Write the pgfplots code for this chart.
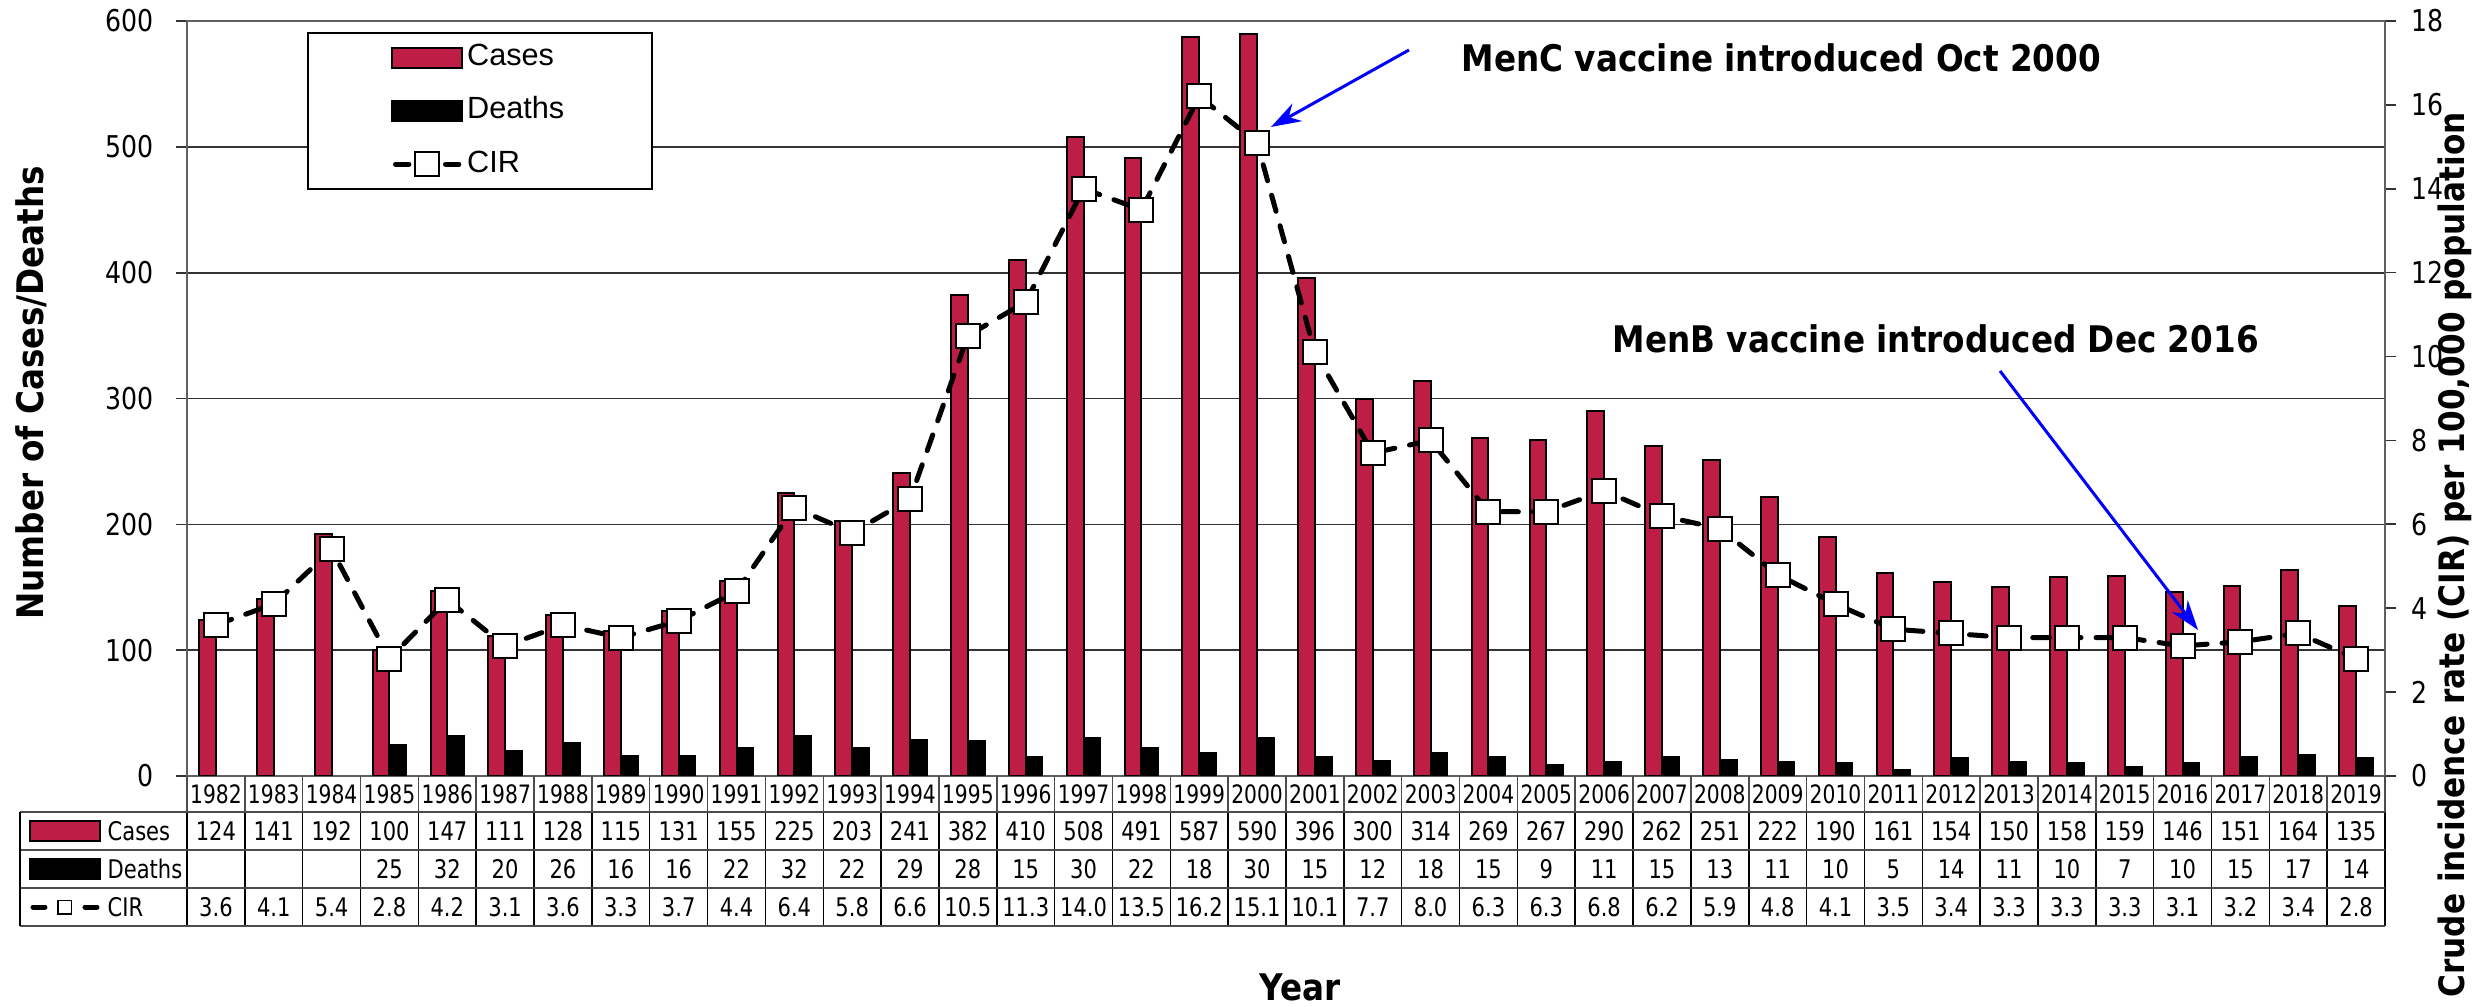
\documentclass[border=0pt]{standalone}
\usepackage{pgfplots}
\pgfplotsset{compat=1.18}
\usepackage{pgfplotstable}
\usetikzlibrary{arrows.meta}
\usepackage{fontspec}
\setmainfont{DejaVu Sans}
\newfontfamily\tickfont[FakeStretch=0.84]{DejaVu Sans}
\newfontfamily\tabfont[FakeStretch=0.82]{DejaVu Sans}
\newfontfamily\yearfont[FakeStretch=0.80]{DejaVu Sans}
\newfontfamily\boldfont[FakeStretch=0.89]{DejaVu Sans}
\newfontfamily\legfont{Liberation Sans}
\definecolor{crim}{RGB}{190,30,69}

\pgfplotsset{
  cirlegend/.style={legend image code/.code={%
    \draw[##1, mark=none, solid] (1pt,0pt) -- (5pt,0pt) (16pt,0pt) -- (20pt,0pt);
    \draw[##1, only marks] plot coordinates {(10.5pt,0pt)};}},
  barlegend/.style={legend image code/.code={%
    \draw[##1] (0pt,-3pt) rectangle (21pt,3pt);}},
}

\pgfplotstableread{
idx year cases deaths cir
0 1982 124 nan 3.6
1 1983 141 nan 4.1
2 1984 192 nan 5.4
3 1985 100 25 2.8
4 1986 147 32 4.2
5 1987 111 20 3.1
6 1988 128 26 3.6
7 1989 115 16 3.3
8 1990 131 16 3.7
9 1991 155 22 4.4
10 1992 225 32 6.4
11 1993 203 22 5.8
12 1994 241 29 6.6
13 1995 382 28 10.5
14 1996 410 15 11.3
15 1997 508 30 14.0
16 1998 491 22 13.5
17 1999 587 18 16.2
18 2000 590 30 15.1
19 2001 396 15 10.1
20 2002 300 12 7.7
21 2003 314 18 8.0
22 2004 269 15 6.3
23 2005 267 9 6.3
24 2006 290 11 6.8
25 2007 262 15 6.2
26 2008 251 13 5.9
27 2009 222 11 4.8
28 2010 190 10 4.1
29 2011 161 5 3.5
30 2012 154 14 3.4
31 2013 150 11 3.3
32 2014 158 10 3.3
33 2015 159 7 3.3
34 2016 146 10 3.1
35 2017 151 15 3.2
36 2018 164 17 3.4
37 2019 135 14 2.8
}\datatable

\def\colw{17.3526}
\tikzset{tabtxt/.style={font=\tabfont\fontsize{7.7}{8.5}\selectfont, inner sep=0pt}}

\begin{document}
\begin{tikzpicture}
\useasboundingbox (-56.1pt,-69.3pt) rectangle (687.3pt,232.8pt);
\begin{axis}[
  at={(0pt,0pt)}, anchor=south west,
  width=659.4pt, height=226.5pt, scale only axis,
  xmin=-0.5, xmax=37.5, ymin=0, ymax=600,
  ybar, bar width=0.29,
  xtick=\empty,
  ytick={0,100,...,600},
  tick pos=left,
  tick align=outside,
  major tick length=3.3pt,
  ymajorgrids,
  grid style={draw=gray!40!black, line width=0.5pt},
  axis line style={draw=gray!75!black, line width=0.7pt},
  tick style={draw=gray!40!black, line width=0.5pt},
  /pgf/number format/assume math mode=true,
  yticklabel style={font=\tickfont\fontsize{9}{10}\selectfont, xshift=-3.3pt},
]
\addplot[fill=crim, draw=black, line width=0.6pt, bar shift=-0.145] table[x=idx,y=cases]{\datatable};
\addplot[fill=black, draw=black, line width=0.6pt, bar shift=0.145] table[x=idx,y=deaths]{\datatable};
\end{axis}
\begin{axis}[
  at={(0pt,0pt)}, anchor=south west,
  width=659.4pt, height=226.5pt, scale only axis,
  xmin=-0.5, xmax=37.5, ymin=0, ymax=18,
  axis x line=none,
  axis y line*=right,
  ytick={0,2,...,18},
  tick align=outside,
  major tick length=3.3pt,
  axis line style={draw=gray!75!black, line width=0.7pt},
  tick style={draw=gray!40!black, line width=0.5pt},
  /pgf/number format/assume math mode=true,
  yticklabel style={font=\tickfont\fontsize{9}{10}\selectfont, xshift=1.2pt},
  legend cell align=left,
  legend style={at={(0.0546,0.9854)}, anchor=north west, draw=black, line width=0.5pt,
    fill=white, font=\legfont\fontsize{9.2}{10}\selectfont,
    inner xsep=25pt, inner ysep=3.15pt, row sep=7.5pt,
    nodes={inner xsep=1.2pt, inner ysep=0pt, text height=6.6pt, text depth=1.9pt}},
]
\addlegendimage{barlegend, fill=crim, draw=black, line width=0.6pt}
\addlegendentry{Cases}
\addlegendimage{barlegend, fill=black, draw=black, line width=0.6pt}
\addlegendentry{Deaths}
\addplot[black, line width=1.5pt, line cap=round, dash pattern=on 5pt off 4.5pt,
  mark=square*, mark size=3.6pt,
  mark options={solid, fill=white, draw=black, line width=0.6pt},
  cirlegend
] table[x=idx,y=cir]{\datatable};
\addlegendentry{CIR}
\end{axis}

% annotations
\draw[blue, line width=0.9pt, -{Stealth[length=9pt,width=6pt]}] (366.6pt,217.8pt) -- (325.2pt,194.7pt);
\node[anchor=base west, font=\boldfont\bfseries\fontsize{11}{13}\selectfont, inner sep=0pt] at (382.2pt,211.2pt) {MenC vaccine introduced Oct 2000};
\draw[blue, line width=0.9pt, -{Stealth[length=9pt,width=6pt]}] (543.9pt,121.5pt) -- (603.3pt,43.8pt);
\node[anchor=base west, font=\boldfont\bfseries\fontsize{11}{13}\selectfont, inner sep=0pt] at (427.5pt,126.9pt) {MenB vaccine introduced Dec 2016};

% axis titles
\node[rotate=90, font=\boldfont\bfseries\fontsize{11}{13}\selectfont, inner sep=0pt] at (-46.8pt,114.9pt) {Number of Cases/Deaths};
\node[rotate=90, font=\boldfont\bfseries\fontsize{10.5}{13}\selectfont, inner sep=0pt] at (680.4pt,66.3pt) {Crude incidence rate (CIR) per 100,000 population};
\node[font=\boldfont\bfseries\fontsize{11}{13}\selectfont, inner sep=0pt] at (333.9pt,-63.3pt) {Year};

% data table
\foreach \k in {0,...,38}{
  \draw[gray!60!black, line width=0.45pt] ({\k*\colw*1pt},0pt) -- ({\k*\colw*1pt},-10.8pt);
  \draw[black, line width=0.45pt] ({\k*\colw*1pt},-10.8pt) -- ({\k*\colw*1pt},-45pt);
}
\foreach \yy in {-10.8,-22.2,-33.6,-45}
  \draw[gray!60!black, line width=0.5pt] (-50.1pt,\yy pt) -- (659.4pt,\yy pt);
\draw[black, line width=0.45pt] (-50.1pt,-10.8pt) -- (-50.1pt,-45pt);

\foreach \v [count=\i from 0] in {1982,...,2019}
  \node[font=\yearfont\fontsize{7.6}{8.5}\selectfont, inner sep=0pt] at ({(\i+0.5)*\colw*1pt},-5.6pt) {\v};
\foreach \v [count=\i from 0] in {124,141,192,100,147,111,128,115,131,155,225,203,241,382,410,508,491,587,590,396,300,314,269,267,290,262,251,222,190,161,154,150,158,159,146,151,164,135}
  \node[tabtxt] at ({(\i+0.5)*\colw*1pt},-16.5pt) {\v};
\foreach \v [count=\i from 0] in {{},{},{},25,32,20,26,16,16,22,32,22,29,28,15,30,22,18,30,15,12,18,15,9,11,15,13,11,10,5,14,11,10,7,10,15,17,14}
  \node[tabtxt] at ({(\i+0.5)*\colw*1pt},-27.9pt) {\v};
\foreach \v [count=\i from 0] in {3.6,4.1,5.4,2.8,4.2,3.1,3.6,3.3,3.7,4.4,6.4,5.8,6.6,10.5,11.3,14.0,13.5,16.2,15.1,10.1,7.7,8.0,6.3,6.3,6.8,6.2,5.9,4.8,4.1,3.5,3.4,3.3,3.3,3.3,3.1,3.2,3.4,2.8}
  \node[tabtxt] at ({(\i+0.5)*\colw*1pt},-39.3pt) {\v};

% table row headers
\draw[fill=crim, draw=black, line width=0.6pt] (-47.1pt,-19.5pt) rectangle (-26.1pt,-13.5pt);
\node[tabtxt, anchor=west] at (-24pt,-16.5pt) {Cases};
\draw[fill=black, draw=black, line width=0.6pt] (-47.1pt,-30.9pt) rectangle (-26.1pt,-24.9pt);
\node[tabtxt, anchor=west] at (-24pt,-27.9pt) {Deaths};
\draw[black, line width=1.5pt, line cap=round] (-46.2pt,-39.3pt) -- (-42.6pt,-39.3pt) (-30.6pt,-39.3pt) -- (-27pt,-39.3pt);
\draw[fill=white, draw=black, line width=0.5pt] (-38.6pt,-41.3pt) rectangle (-34.6pt,-37.3pt);
\node[tabtxt, anchor=west] at (-24pt,-39.3pt) {CIR};
\end{tikzpicture}
\end{document}
